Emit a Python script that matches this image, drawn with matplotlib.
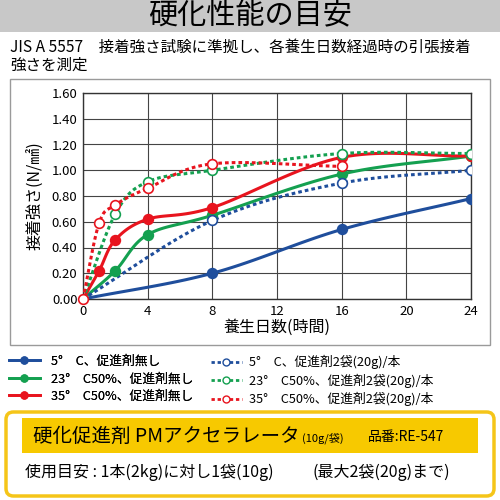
import numpy as np
import matplotlib.pyplot as plt
from matplotlib.patches import Rectangle, FancyBboxPatch

plt.rcParams['font.family'] = ['Noto Sans CJK JP', 'DejaVu Sans']

# --- data ---
x_blue = [0, 8, 16, 24]
y_blue = [0.00, 0.20, 0.54, 0.78]
x_green = [0, 2, 4, 8, 16, 24]
y_green = [0.00, 0.22, 0.50, 0.65, 0.97, 1.11]
x_red = [0, 1, 2, 4, 8, 16, 24]
y_red = [0.00, 0.22, 0.46, 0.62, 0.71, 1.10, 1.11]
x_blue_acc = [0, 8, 16, 24]
y_blue_acc = [0.00, 0.61, 0.90, 1.00]
x_green_acc = [0, 2, 4, 8, 16, 24]
y_green_acc = [0.00, 0.66, 0.91, 1.00, 1.13, 1.13]
x_red_acc = [0, 1, 2, 4, 8, 16]
y_red_acc = [0.00, 0.59, 0.73, 0.86, 1.05, 1.03]

labels = ['5°　C、促進剤無し', '23°　C50%、促進剤無し', '35°　C50%、促進剤無し',
          '5°　C、促進剤2袋(20g)/本', '23°　C50%、促進剤2袋(20g)/本', '35°　C50%、促進剤2袋(20g)/本']

BLUE = '#1f4e9c'
GREEN = '#14a050'
RED = '#e8141e'


def smooth(xs, ys, n=20):
    # catmull-rom curve through the points (like a smoothed Excel line)
    xs = np.asarray(xs, float)
    ys = np.asarray(ys, float)
    px = np.concatenate([[2 * xs[0] - xs[1]], xs, [2 * xs[-1] - xs[-2]]])
    py = np.concatenate([[2 * ys[0] - ys[1]], ys, [2 * ys[-1] - ys[-2]]])
    ox, oy = [], []
    t = np.linspace(0, 1, n)
    for i in range(1, len(px) - 2):
        for p, o in ((px, ox), (py, oy)):
            p0, p1, p2, p3 = p[i - 1], p[i], p[i + 1], p[i + 2]
            m1 = (p2 - p0) / 6.0
            m2 = (p3 - p1) / 6.0
            c = ((1 - t) ** 3 * p1 + 3 * (1 - t) ** 2 * t * (p1 + m1)
                 + 3 * (1 - t) * t ** 2 * (p2 - m2) + t ** 3 * p2)
            o.extend(c)
    return np.array(ox), np.array(oy)


fig = plt.figure(figsize=(5, 5), dpi=100)

# header band
fig.patches.append(Rectangle((0, 1 - 32 / 500), 1, 32 / 500, transform=fig.transFigure,
                             facecolor='#c8c8c8', edgecolor='none'))
fig.text(0.5, 1 - 16 / 500, '硬化性能の目安', ha='center', va='center', fontsize=21)
fig.text(10 / 500, 1 - 47 / 500, 'JIS A 5557　接着強さ試験に準拠し、各養生日数経過時の引張接着',
         ha='left', va='center', fontsize=11.2)
fig.text(10 / 500, 1 - 65 / 500, '強さを測定', ha='left', va='center', fontsize=11.2)

# chart frame
fig.patches.append(Rectangle((10 / 500, 1 - 345 / 500), 480 / 500, 266 / 500,
                             transform=fig.transFigure, facecolor='none',
                             edgecolor='#9a9a9a', linewidth=1))

ax = fig.add_axes([83 / 500, 1 - 299 / 500, 388 / 500, 206 / 500])

series = [
    (x_blue, y_blue, BLUE, '-', True),
    (x_green, y_green, GREEN, '-', True),
    (x_red, y_red, RED, '-', True),
    (x_blue_acc, y_blue_acc, BLUE, (0, (1.2, 1.0)), False),
    (x_green_acc, y_green_acc, GREEN, (0, (1.2, 1.0)), False),
    (x_red_acc, y_red_acc, RED, (0, (1.2, 1.0)), False),
]
handles = []
for (xs, ys, col, ls, filled), lab in zip(series, labels):
    sx, sy = smooth(xs, ys)
    ax.plot(sx, sy, color=col, linestyle=ls, linewidth=2.2, zorder=3)
    ax.plot(xs[1:], ys[1:], linestyle='none', marker='o', markersize=7,
            markerfacecolor=col if filled else 'white', markeredgecolor=col,
            markeredgewidth=1.2, zorder=4)
    h, = plt.plot([], [], color=col, linestyle=ls, linewidth=2.0, marker='o', markersize=5,
                  markerfacecolor=col if filled else 'white', markeredgecolor=col)
    handles.append(h)
ax.plot([0], [0], linestyle='none', marker='o', markersize=7, markerfacecolor='white',
        markeredgecolor=RED, markeredgewidth=1.2, zorder=5, clip_on=False)

ax.set_xlim(0, 24)
ax.set_ylim(0, 1.6)
ax.set_xticks(range(0, 25, 4))
ax.set_yticks(np.arange(0, 1.61, 0.2))
ax.set_yticklabels(['%.2f' % v for v in np.arange(0, 1.61, 0.2)])
ax.grid(True, color='#444444', linewidth=0.8)
ax.set_axisbelow(True)
for s in ax.spines.values():
    s.set_color('#333333')
    s.set_linewidth(1.0)
ax.tick_params(length=0, labelsize=9.5, pad=4)
ax.set_xlabel('養生日数(時間)', fontsize=11.5, labelpad=1)
ax.set_ylabel('接着強さ(N/㎟)', fontsize=11.5, labelpad=5)

# legend
leg1 = fig.legend(handles[:3], labels[:3], loc='upper left', bbox_to_anchor=(0.0, 1 - 346 / 500),
                  frameon=False, fontsize=9.2, handlelength=2.4, handletextpad=0.9,
                  labelspacing=0.35, borderaxespad=0.3)
fig.add_artist(leg1)
fig.legend(handles[3:], labels[3:], loc='upper left', bbox_to_anchor=(202 / 500, 1 - 346 / 500),
           frameon=False, fontsize=9.2, handlelength=2.4, handletextpad=0.6,
           labelspacing=0.35, borderaxespad=0.3)

# product box
fig.patches.append(FancyBboxPatch((6 / 500, 1 - 496 / 500), 488 / 500, 84 / 500,
                                  boxstyle='round,pad=0,rounding_size=0.015',
                                  transform=fig.transFigure, facecolor='white',
                                  edgecolor='#f5c518', linewidth=2.5))
fig.patches.append(Rectangle((22 / 500, 1 - 453 / 500), 456 / 500, 35 / 500,
                             transform=fig.transFigure, facecolor='#f7c900', edgecolor='none'))
fig.text(33 / 500, 1 - 436 / 500, '硬化促進剤 PMアクセラレータ', ha='left', va='center', fontsize=14)
fig.text(302 / 500, 1 - 438 / 500, '(10g/袋)', ha='left', va='center', fontsize=8)
fig.text(368 / 500, 1 - 437 / 500, '品番:RE-547', ha='left', va='center', fontsize=10)
fig.text(25 / 500, 1 - 472 / 500, '使用目安 : 1本(2kg)に対し1袋(10g)', ha='left', va='center', fontsize=11.5)
fig.text(313 / 500, 1 - 472 / 500, '(最大2袋(20g)まで)', ha='left', va='center', fontsize=11.5)

fig.savefig('out.png', dpi=100)
